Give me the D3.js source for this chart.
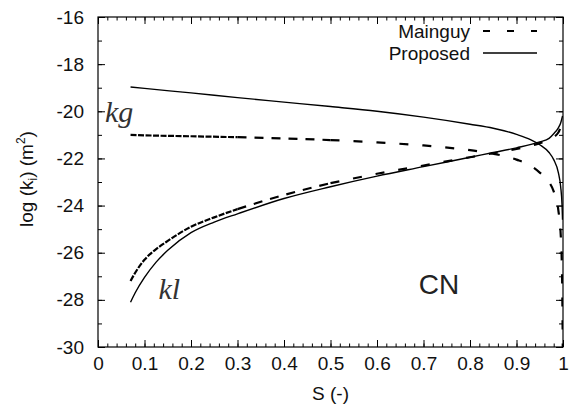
<!DOCTYPE html>
<html lang="en">
    <head>
        <meta charset="utf-8">
        <title>log k vs S</title>
        <script type="text/javascript" src="https://d3js.org/d3.v7.min.js"></script>
        <style>
            body { margin: 0; background: #fff; }
            #chart text { font-family: "Liberation Sans", Arial, sans-serif; }
            #chart .tick text { font-size: 19px; fill: #111; }
            #chart text.ann { font-family: "Liberation Serif", "Times New Roman", serif; font-style: italic; }
            .curve { fill: none; stroke: #000; }
        </style>
    </head>
    <body>
        <svg id="chart"></svg>
    </body>
    <script>
        // tick labels
        let xTicks = [0, 0.1, 0.2, 0.3, 0.4, 0.5, 0.6, 0.7, 0.8, 0.9, 1];
        let yTicks = [-30, -28, -26, -24, -22, -20, -18, -16];

        // Proposed model (solid)
        let sProposedG = [0.07, 0.1, 0.2, 0.3, 0.4, 0.5, 0.6, 0.7, 0.8, 0.85, 0.9, 0.93, 0.95, 0.97, 0.98, 0.99, 0.995, 0.998, 0.999];
        let kgProposed = [-18.97, -19.03, -19.22, -19.42, -19.61, -19.8, -20.0, -20.25, -20.55, -20.72, -20.98, -21.2, -21.42, -21.75, -22.05, -22.6, -23.2, -24.0, -24.6];
        let sProposedL = [0.07, 0.08, 0.1, 0.125, 0.15, 0.2, 0.25, 0.3, 0.4, 0.5, 0.6, 0.7, 0.8, 0.85, 0.9, 0.95, 0.97, 0.98, 0.99, 0.995, 0.999];
        let klProposed = [-28.1, -27.7, -27.05, -26.4, -25.9, -25.15, -24.7, -24.35, -23.7, -23.2, -22.75, -22.35, -21.95, -21.75, -21.55, -21.3, -21.15, -20.95, -20.7, -20.5, -20.2];

        // Mainguy model (dashed)
        let sMainguyG = [0.07, 0.1, 0.2, 0.3, 0.4, 0.5, 0.6, 0.7, 0.8, 0.85, 0.9, 0.93, 0.95, 0.97, 0.98, 0.99, 0.995, 0.998, 0.9995];
        let kgMainguy = [-21.0, -21.02, -21.06, -21.1, -21.15, -21.22, -21.32, -21.45, -21.65, -21.8, -22.05, -22.3, -22.6, -23.0, -23.4, -24.2, -25.2, -27.0, -30.0];
        let sMainguyL = [0.07, 0.08, 0.1, 0.125, 0.15, 0.2, 0.25, 0.3, 0.4, 0.5, 0.6, 0.7, 0.8, 0.85, 0.9, 0.95, 0.97, 0.99, 0.999];
        let klMainguy = [-27.2, -26.85, -26.3, -25.85, -25.5, -24.9, -24.5, -24.15, -23.55, -23.05, -22.65, -22.3, -21.95, -21.78, -21.6, -21.35, -21.2, -20.9, -20.4];

        let width = 571, height = 409;
        let margin = {left: 98, right: 8, top: 17, bottom: 62};
        let bodyWidth = width - margin.left - margin.right;
        let bodyHeight = height - margin.top - margin.bottom;

        let svg = d3.select("#chart").attr("width", width).attr("height", height);

        let xScale = d3.scaleLinear().domain([0, 1]).range([0, bodyWidth]);
        let yScale = d3.scaleLinear().domain([-30, -16]).range([bodyHeight, 0]);

        let plot = svg.append("g")
            .attr("transform", "translate(" + margin.left + "," + margin.top + ")");

        plot.append("clipPath").attr("id", "clip")
            .append("rect").attr("width", bodyWidth).attr("height", bodyHeight);

        // minor ticks (no labels), all four sides, pointing inward
        let xMinor = d3.range(0, 1.0001, 0.02);
        let yMinor = d3.range(-30, -15.99, 1);
        let noLabel = () => "";

        function addAxis(axis, tx, ty) {
            let g = plot.append("g")
                .attr("transform", "translate(" + tx + "," + ty + ")")
                .call(axis);
            g.select(".domain").remove();
            g.selectAll(".tick line").attr("stroke", "#000");
            return g;
        }

        addAxis(d3.axisBottom(xScale).tickValues(xMinor).tickSize(-3.5).tickFormat(noLabel), 0, bodyHeight);
        addAxis(d3.axisTop(xScale).tickValues(xMinor).tickSize(-3.5).tickFormat(noLabel), 0, 0);
        addAxis(d3.axisLeft(yScale).tickValues(yMinor).tickSize(-4).tickFormat(noLabel), 0, 0);
        addAxis(d3.axisRight(yScale).tickValues(yMinor).tickSize(-4).tickFormat(noLabel), bodyWidth, 0);

        // major ticks with labels (plain hyphen for minus, as in the original)
        addAxis(d3.axisBottom(xScale).tickValues(xTicks).tickSize(-7).tickPadding(10)
            .tickFormat(d => String(+d.toFixed(1))), 0, bodyHeight);
        addAxis(d3.axisTop(xScale).tickValues(xTicks).tickSize(-7).tickFormat(noLabel), 0, 0);
        addAxis(d3.axisLeft(yScale).tickValues(yTicks).tickSize(-7).tickPadding(14)
            .tickFormat(d => String(d)), 0, 0);
        addAxis(d3.axisRight(yScale).tickValues(yTicks).tickSize(-7).tickFormat(noLabel), bodyWidth, 0);

        // frame
        plot.append("rect")
            .attr("width", bodyWidth).attr("height", bodyHeight)
            .attr("fill", "none").attr("stroke", "#000").attr("stroke-width", 1.2);

        // curves
        let line = d3.line()
            .x(d => xScale(d[0]))
            .y(d => yScale(d[1]))
            .curve(d3.curveMonotoneX);

        let curves = plot.append("g").attr("clip-path", "url(#clip)");

        function drawSolid(s, k) {
            curves.append("path")
                .attr("class", "curve")
                .datum(d3.zip(s, k))
                .attr("stroke-width", 1.4)
                .attr("d", line);
        }

        // dashed curves: the dash pattern gets tighter where the original sampled densely (low S)
        let dashParts = [
            {from: 0, to: 0.3, dash: "6,1.5"},
            {from: 0.3, to: 0.5, dash: "9,8"},
            {from: 0.5, to: 1, dash: "9,14"}
        ];
        function drawDashed(s, k) {
            let pts = d3.zip(s, k);
            dashParts.forEach(p => {
                curves.append("path")
                    .attr("class", "curve")
                    .datum(pts.filter(d => d[0] >= p.from && d[0] <= p.to))
                    .attr("stroke-width", 2.2)
                    .attr("stroke-dasharray", p.dash)
                    .attr("d", line);
            });
        }

        drawSolid(sProposedG, kgProposed);
        drawSolid(sProposedL, klProposed);
        drawDashed(sMainguyG, kgMainguy);
        drawDashed(sMainguyL, klMainguy);

        // legend
        let legend = plot.append("g");
        let legendItems = [{name: "Mainguy", dash: "7,17", w: 2.2}, {name: "Proposed", dash: null, w: 1.4}];
        legendItems.forEach((item, i) => {
            let y = 14 + i * 22;
            legend.append("text")
                .attr("x", 372).attr("y", y).attr("dy", "0.35em")
                .attr("text-anchor", "end")
                .attr("font-size", 19).attr("fill", "#111")
                .text(item.name);
            legend.append("line")
                .attr("x1", 385).attr("x2", 439).attr("y1", y).attr("y2", y)
                .attr("stroke", "#000").attr("stroke-width", item.w)
                .attr("stroke-dasharray", item.dash);
        });

        // annotations
        plot.append("text").attr("class", "ann")
            .attr("x", xScale(0.015)).attr("y", yScale(-20.45))
            .attr("font-size", 30).attr("fill", "#333")
            .text("kg");
        plot.append("text").attr("class", "ann")
            .attr("x", xScale(0.13)).attr("y", yScale(-27.95))
            .attr("font-size", 30).attr("fill", "#333")
            .text("kl");
        plot.append("text")
            .attr("x", xScale(0.69)).attr("y", yScale(-27.75))
            .attr("font-size", 28).attr("fill", "#222")
            .text("CN");

        // axis titles
        svg.append("text")
            .attr("x", margin.left + bodyWidth / 2).attr("y", 400)
            .attr("text-anchor", "middle").attr("font-size", 19).attr("fill", "#111")
            .text("S (-)");

        let yTitle = svg.append("text")
            .attr("transform", "translate(33," + (margin.top + bodyHeight / 2 - 3) + ") rotate(-90)")
            .attr("text-anchor", "middle").attr("font-size", 19).attr("fill", "#111");
        yTitle.append("tspan").text("log (k");
        yTitle.append("tspan").attr("font-size", 12).attr("dy", 4).text("i");
        yTitle.append("tspan").attr("dy", -4).text(") (m");
        yTitle.append("tspan").attr("font-size", 12).attr("dy", -8).text("2");
        yTitle.append("tspan").attr("dy", 8).text(")");
    </script>
</html>
